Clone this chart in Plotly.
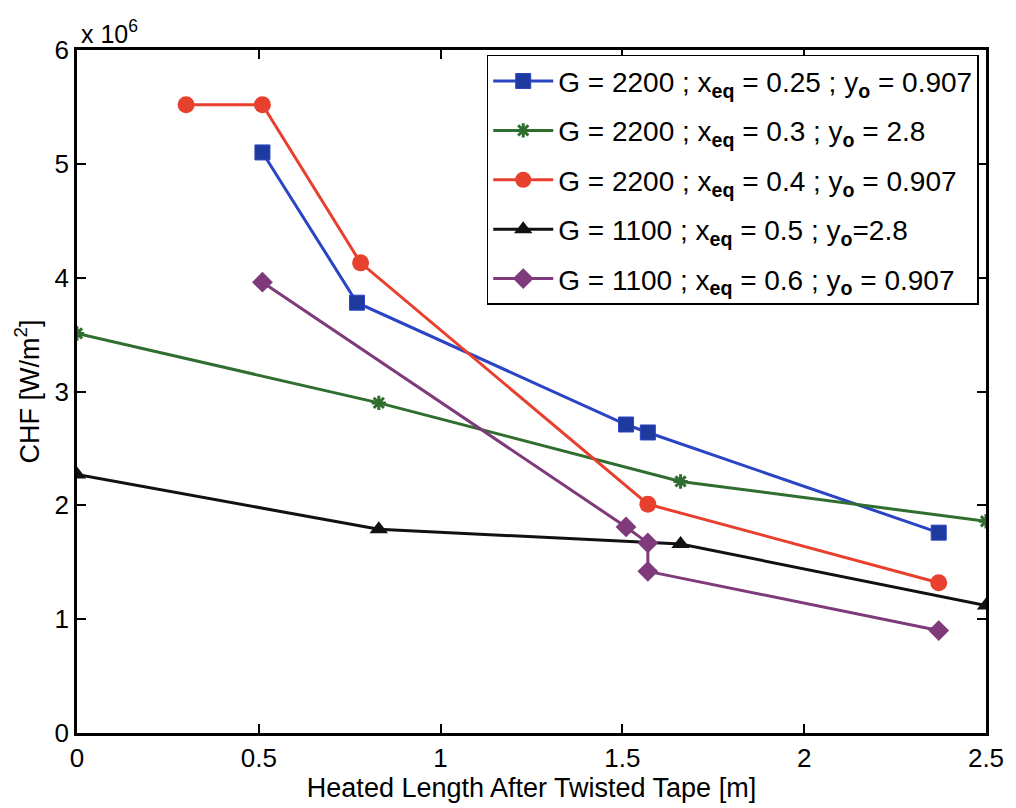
import plotly.graph_objects as go

# Data (CHF in units of 1e6 W/m^2)
blue_x = [0.51, 0.77, 1.51, 1.57, 2.37]
blue_y = [5.10, 3.78, 2.71, 2.64, 1.76]
green_x = [0.0, 0.83, 1.66, 2.50]
green_y = [3.51, 2.90, 2.21, 1.86]
red_x = [0.30, 0.51, 0.78, 1.57, 2.37]
red_y = [5.52, 5.52, 4.13, 2.01, 1.32]
black_x = [0.0, 0.83, 1.66, 2.50]
black_y = [2.27, 1.79, 1.66, 1.12]
purple_x = [0.51, 1.51, 1.57, 1.57, 2.37]
purple_y = [3.96, 1.81, 1.67, 1.42, 0.90]

names = [
    "G = 2200 ; x<b><sub>eq</sub></b> = 0.25 ; y<b><sub>o</sub></b> = 0.907",
    "G = 2200 ; x<b><sub>eq</sub></b> = 0.3 ; y<b><sub>o</sub></b> = 2.8",
    "G = 2200 ; x<b><sub>eq</sub></b> = 0.4 ; y<b><sub>o</sub></b> = 0.907",
    "G = 1100 ; x<b><sub>eq</sub></b> = 0.5 ; y<b><sub>o</sub></b>=2.8",
    "G = 1100 ; x<b><sub>eq</sub></b> = 0.6 ; y<b><sub>o</sub></b> = 0.907",
]

fig = go.Figure()
fig.add_trace(go.Scatter(x=blue_x, y=blue_y, mode="lines+markers", name=names[0], legendgroup="a",
    line=dict(color="#2a44c4", width=3),
    marker=dict(symbol="square", size=15, color="#1f3a9e", line=dict(color="#2a44c4", width=1))))
fig.add_trace(go.Scatter(x=green_x, y=green_y, mode="lines+markers", name=names[1], legendgroup="b",
    line=dict(color="#2f6e2f", width=3),
    marker=dict(symbol="asterisk-open", size=12, color="#2f6e2f", line=dict(color="#2f6e2f", width=3))))
fig.add_trace(go.Scatter(x=red_x, y=red_y, mode="lines+markers", name=names[2], legendgroup="c",
    line=dict(color="#e8402e", width=3),
    marker=dict(symbol="circle", size=17, color="#e8402e")))
fig.add_trace(go.Scatter(x=black_x, y=black_y, mode="lines+markers", name=names[3], legendgroup="d",
    line=dict(color="#111111", width=3),
    marker=dict(symbol="triangle-up", size=16, color="#111111")))
fig.add_trace(go.Scatter(x=purple_x, y=purple_y, mode="lines+markers", name=names[4], legendgroup="e",
    line=dict(color="#7e3a7a", width=3),
    marker=dict(symbol="diamond", size=16, color="#7e3a7a")))

font_family = "Liberation Sans, Arial, sans-serif"

fig.update_layout(
    width=1016, height=808,
    margin=dict(l=77, r=19, t=50, b=72),
    paper_bgcolor="white", plot_bgcolor="white",
    font=dict(family=font_family, size=24, color="black"),
    legend=dict(
        x=0.992, y=0.993, xanchor="right", yanchor="top",
        bordercolor="black", borderwidth=1.5, bgcolor="white",
        font=dict(size=28, family=font_family),
        tracegroupgap=10, itemwidth=60,
    ),
    xaxis=dict(
        range=[0, 2.5], tickvals=[0, 0.5, 1, 1.5, 2, 2.5],
        ticktext=["0", "0.5", "1", "1.5", "2", "2.5"],
        ticks="inside", ticklen=9, tickwidth=2, tickcolor="black",
        showline=True, linecolor="black", linewidth=2.5, mirror="ticks",
        showgrid=False, zeroline=False,
        tickfont=dict(size=26),
        title=dict(text="Heated Length After Twisted Tape [m]", font=dict(size=27), standoff=4),
    ),
    yaxis=dict(
        range=[0, 6], tickvals=[0, 1, 2, 3, 4, 5, 6],
        ticktext=["0", "1", "2", "3", "4", "5", "6"],
        ticks="inside", ticklen=9, tickwidth=2, tickcolor="black",
        showline=True, linecolor="black", linewidth=2.5, mirror="ticks",
        showgrid=False, zeroline=False,
        tickfont=dict(size=26),
        title=dict(text="CHF [W/m<sup>2</sup>]", font=dict(size=27), standoff=8),
    ),
    annotations=[dict(
        text="x 10<sup>6</sup>", xref="paper", yref="paper", x=0.0, y=1.0,
        xanchor="left", yanchor="bottom", showarrow=False, xshift=2, yshift=0,
        font=dict(size=25, family=font_family),
    )],
)

fig.write_html("out.html")
